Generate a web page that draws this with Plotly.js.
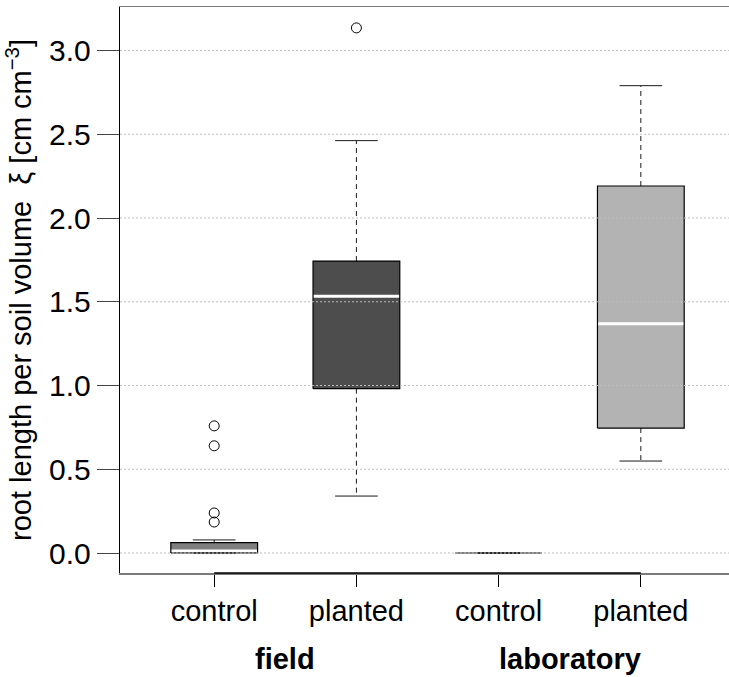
<!DOCTYPE html>
<html>
<head>
<meta charset="utf-8">
<script src="https://cdn.plot.ly/plotly-3.0.1.min.js"></script>
<style>html,body{margin:0;padding:0;background:#fff;}#chart{width:729px;height:677px;}</style>
</head>
<body>
<div id="chart"></div>
<script>
// ---- data ----
const positions = [1, 2, 3, 4];
const tickLabels = ['control', 'planted', 'control', 'planted'];
const groupLabels = ['field', 'laboratory'];
const groupMembers = [[1, 2], [3, 4]];
const q1 = [0.0, 0.981, 0.0, 0.746];
const median = [0.012, 1.533, 0.0, 1.369];
const q3 = [0.062, 1.743, 0.0, 2.191];
const lowerWhisker = [0.0, 0.340, 0.0, 0.549];
const upperWhisker = [0.078, 2.462, 0.0, 2.790];
const outliers = [[0.759, 0.640, 0.239, 0.185], [3.135], [], []];
const yTicks = [0.0, 0.5, 1.0, 1.5, 2.0, 2.5, 3.0];
const yTickText = ['0.0', '0.5', '1.0', '1.5', '2.0', '2.5', '3.0'];

// ---- styles ----
const fills = ['#7f7f7f', '#4d4d4d', '#ffffff', '#b3b3b3'];
const halfBox = 0.305, halfStaple = 0.15;
const FONT = '"Liberation Sans", Arial, Helvetica, sans-serif';

const traces = [];
positions.forEach((p, i) => {
  traces.push({
    type: 'scatter', mode: 'lines', fill: 'toself', fillcolor: fills[i],
    x: [p - halfBox, p + halfBox, p + halfBox, p - halfBox, p - halfBox],
    y: [q1[i], q1[i], q3[i], q3[i], q1[i]],
    line: {width: 0}, hoverinfo: 'skip', showlegend: false
  });
  traces.push({
    type: 'scatter', mode: 'lines',
    x: [p - halfBox, p + halfBox], y: [median[i], median[i]],
    line: {color: '#ffffff', width: 3}, hoverinfo: 'skip', showlegend: false
  });
  traces.push({
    type: 'scatter', mode: 'lines',
    x: [p, p, null, p, p], y: [q3[i], upperWhisker[i], null, q1[i], lowerWhisker[i]],
    line: {color: '#1a1a1a', width: 1, dash: '5px,4px'}, hoverinfo: 'skip', showlegend: false
  });
  traces.push({
    type: 'scatter', mode: 'lines',
    x: [p - halfStaple, p + halfStaple, null, p - halfStaple, p + halfStaple],
    y: [upperWhisker[i], upperWhisker[i], null, lowerWhisker[i], lowerWhisker[i]],
    line: {color: '#1a1a1a', width: 1}, hoverinfo: 'skip', showlegend: false
  });
  traces.push({
    type: 'scatter', mode: 'lines',
    x: [p - halfBox, p + halfBox, p + halfBox, p - halfBox, p - halfBox],
    y: [q1[i], q1[i], q3[i], q3[i], q1[i]],
    line: {color: '#000', width: 1.2}, hoverinfo: 'skip', showlegend: false
  });
  if (outliers[i].length) {
    traces.push({
      type: 'scatter', mode: 'markers',
      x: outliers[i].map(() => p), y: outliers[i],
      marker: {symbol: 'circle-open', size: 10, color: '#000', line: {width: 1}},
      hoverinfo: 'skip', showlegend: false
    });
  }
});

const shapes = yTicks.map(v => ({
  type: 'line', layer: 'above', xref: 'paper', yref: 'y',
  x0: 0, x1: 1, y0: v, y1: v,
  line: {color: '#bdbdbd', width: 1, dash: '2px,2px'}
}));
shapes.push({
  type: 'line', layer: 'above', xref: 'x', yref: 'paper',
  x0: positions[0], x1: positions[positions.length - 1], y0: 0, y1: 0,
  line: {color: '#000', width: 1.5}
});

const annotations = groupLabels.map((g, k) => ({
  text: '<b>' + g + '</b>', showarrow: false,
  xref: 'x', yref: 'paper',
  x: groupMembers[k].reduce((a, b) => a + b, 0) / groupMembers[k].length,
  y: 0, yshift: -86, yanchor: 'middle', xanchor: 'center',
  font: {family: FONT, size: 29, color: '#000'}
}));

const layout = {
  width: 729, height: 677,
  margin: {l: 120, r: 0, t: 7, b: 104},
  paper_bgcolor: '#fff', plot_bgcolor: '#fff',
  font: {family: FONT, color: '#000'},
  showlegend: false,
  xaxis: {
    range: [0.3376, 4.62], tickmode: 'array', tickvals: positions, ticktext: tickLabels,
    showgrid: false, zeroline: false, showline: true, mirror: true, linecolor: '#7a7a7a', linewidth: 1.5,
    ticks: 'outside', ticklen: 12, tickcolor: '#000', tickwidth: 1,
    tickfont: {family: FONT, size: 29, color: '#000'}
  },
  yaxis: {
    range: [-0.1194, 3.2597], tickmode: 'array', tickvals: yTicks, ticktext: yTickText,
    showgrid: false, zeroline: false, showline: true, linecolor: '#000', linewidth: 1.3,
    ticks: 'outside', ticklen: 22, tickcolor: '#444', tickwidth: 1,
    tickfont: {family: FONT, size: 30, color: '#000'},
    title: {text: 'root length per soil volume  ξ [cm cm<sup>−3</sup>]', standoff: 8,
            font: {family: FONT, size: 29, color: '#000'}}
  },
  shapes: shapes,
  annotations: annotations
};

Plotly.newPlot('chart', traces, layout, {staticPlot: true, displayModeBar: false});
</script>
</body>
</html>
